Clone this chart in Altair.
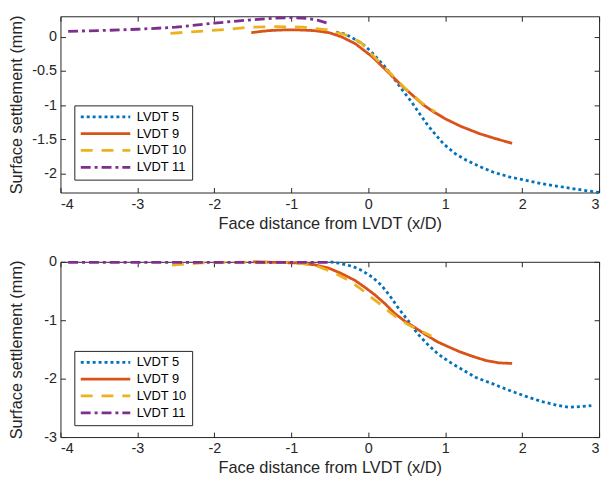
import altair as alt
import pandas as pd

series = ["LVDT 5", "LVDT 9", "LVDT 10", "LVDT 11"]
colors = ["#0072BD", "#D95319", "#EDB120", "#7E2F8E"]
dashes = [[3, 3], [1, 0], [12, 9], [10, 4, 3, 4]]

x_ticks = [-4, -3, -2, -1, 0, 1, 2, 3]
top_y_ticks = [0, -0.5, -1, -1.5, -2]
bot_y_ticks = [0, -1, -2, -3]

# ---- top panel ----
top_x_5 = [-0.42, -0.3, -0.2, -0.08, 0.03, 0.13, 0.24, 0.34, 0.45, 0.56, 0.67, 0.77, 0.88, 0.98,
           1.13, 1.28, 1.45, 1.62, 1.83, 2.04, 2.25, 2.47, 2.7, 2.94, 3.0]
top_y_5 = [0.07, 0.04, -0.02, -0.1, -0.21, -0.33, -0.47, -0.62, -0.79, -0.95, -1.13, -1.29, -1.44, -1.57,
           -1.71, -1.81, -1.9, -1.98, -2.05, -2.1, -2.15, -2.19, -2.23, -2.27, -2.28]
top_x_9 = [-1.52, -1.3, -1.1, -0.9, -0.7, -0.51, -0.35, -0.17, 0.05, 0.26, 0.43, 0.6, 0.72, 0.85,
           1.0, 1.2, 1.45, 1.65, 1.87]
top_y_9 = [0.06, 0.09, 0.1, 0.1, 0.09, 0.06, 0.0, -0.1, -0.29, -0.52, -0.71, -0.88, -1.0, -1.1,
           -1.2, -1.31, -1.42, -1.49, -1.56]
top_x_10 = [-2.57, -2.2, -1.83, -1.53, -1.19, -0.85, -0.53, -0.3, -0.1, 0.1, 0.3, 0.5, 0.7, 0.87]
top_y_10 = [0.05, 0.08, 0.11, 0.14, 0.15, 0.14, 0.1, 0.03, -0.08, -0.32, -0.55, -0.78, -0.97, -1.1]
top_x_11 = [-3.9, -3.5, -3.0, -2.5, -2.0, -1.5, -1.25, -1.0, -0.8, -0.65, -0.5]
top_y_11 = [0.08, 0.09, 0.11, 0.14, 0.2, 0.25, 0.27, 0.28, 0.27, 0.24, 0.19]

# ---- bottom panel ----
bot_x_5 = [-0.49, -0.35, -0.2, -0.08, 0.05, 0.17, 0.28, 0.39, 0.52, 0.64, 0.77, 0.9, 1.05, 1.19,
           1.4, 1.62, 1.83, 2.04, 2.25, 2.47, 2.6, 2.75, 2.9]
bot_y_5 = [0.0, -0.03, -0.08, -0.15, -0.26, -0.4, -0.58, -0.79, -1.01, -1.23, -1.41, -1.57, -1.71, -1.82,
           -1.98, -2.09, -2.2, -2.3, -2.39, -2.46, -2.49, -2.48, -2.46]
bot_x_9 = [-1.5, -1.2, -0.93, -0.7, -0.51, -0.35, -0.17, -0.04, 0.09, 0.22, 0.34, 0.47, 0.6, 0.75,
           0.9, 1.05, 1.19, 1.36, 1.53, 1.7, 1.87]
bot_y_9 = [0.0, -0.01, -0.02, -0.05, -0.11, -0.2, -0.32, -0.44, -0.57, -0.72, -0.88, -1.01, -1.12, -1.25,
           -1.37, -1.46, -1.54, -1.62, -1.69, -1.73, -1.74]
bot_x_10 = [-2.55, -2.17, -1.8, -1.44, -1.1, -0.8, -0.65, -0.51, -0.38, -0.25, -0.12, 0.0, 0.13, 0.26,
            0.38, 0.51, 0.66, 0.82]
bot_y_10 = [-0.055, -0.02, -0.01, 0.0, -0.01, -0.04, -0.08, -0.15, -0.23, -0.32, -0.44, -0.57, -0.7, -0.84,
            -0.96, -1.07, -1.17, -1.27]
bot_x_11 = [-3.9, -3.0, -2.0, -1.0, -0.5]
bot_y_11 = [-0.01, -0.01, -0.01, -0.01, -0.01]

FONT = "Liberation Sans"
INK = "#262626"
LABEL = "datum.value + ''"


def frame(xs, ys):
    rows = []
    for name, xv, yv in zip(series, xs, ys):
        for a, b in zip(xv, yv):
            rows.append({"series": name, "x": a, "y": b})
    return pd.DataFrame(rows)


def panel(df, ydom, yticks, height):
    xsc = alt.Scale(domain=[-4, 3], nice=False, zero=False)
    ysc = alt.Scale(domain=ydom, nice=False, zero=False)
    color = alt.Color("series:N", scale=alt.Scale(domain=series, range=colors),
                      sort=series, title=None)
    dash = alt.StrokeDash("series:N", scale=alt.Scale(domain=series, range=dashes),
                          sort=series, title=None)
    xax = alt.Axis(orient="bottom", values=x_ticks, title="Face distance from LVDT (x/D)", grid=False,
                   domain=False, tickSize=alt.ExprRef("-5"), tickColor=INK, labelPadding=10,
                   titlePadding=0, labelExpr=LABEL, minExtent=23, maxExtent=23,
                   labelFont=FONT, labelFontSize=14.5, labelColor=INK,
                   titleFont=FONT, titleFontSize=16.5, titleFontWeight="normal", titleColor=INK)
    yax = alt.Axis(orient="left", values=yticks, title="Surface settlement (mm)", grid=False,
                   domain=False, tickSize=alt.ExprRef("-5"), tickColor=INK, labelPadding=9,
                   titlePadding=5, labelExpr=LABEL, minExtent=31, maxExtent=31,
                   labelFont=FONT, labelFontSize=14.5, labelColor=INK,
                   titleFont=FONT, titleFontSize=16.5, titleFontWeight="normal", titleColor=INK)
    layers = []
    for i, name in enumerate(series):
        layers.append(
            alt.Chart(df).transform_filter(alt.datum.series == name).mark_line(
                strokeWidth=2.8, strokeCap="butt", clip=False
            ).encode(
                x=alt.X("x:Q", scale=xsc, axis=xax if i == 0 else None),
                y=alt.Y("y:Q", scale=ysc, axis=yax if i == 0 else None),
                color=color,
                strokeDash=dash,
                order=alt.Order("x:Q"),
            )
        )
    mirror = alt.Chart(df).mark_point(opacity=0, size=1).encode(
        x=alt.X("x:Q", scale=xsc, axis=alt.Axis(orient="top", values=x_ticks, labels=False, title=None,
                                                 grid=False, domain=False, tickColor=INK,
                                                 minExtent=0, maxExtent=0,
                                                 tickSize=alt.ExprRef("-5"))),
        y=alt.Y("y:Q", scale=ysc, axis=alt.Axis(orient="right", values=yticks, labels=False, title=None,
                                                 grid=False, domain=False, tickColor=INK,
                                                 minExtent=0, maxExtent=0,
                                                 tickSize=alt.ExprRef("-5"))),
    )
    return alt.layer(*layers, mirror).resolve_axis(x="independent", y="independent").properties(
        width=544, height=height
    )


top = panel(frame([top_x_5, top_x_9, top_x_10, top_x_11], [top_y_5, top_y_9, top_y_10, top_y_11]),
            [-2.28, 0.3], top_y_ticks, 178)
bottom = panel(frame([bot_x_5, bot_x_9, bot_x_10, bot_x_11], [bot_y_5, bot_y_9, bot_y_10, bot_y_11]),
               [-3, 0], bot_y_ticks, 177)

chart = alt.vconcat(top, bottom, spacing=21).resolve_scale(
    color="independent", strokeDash="independent"
).resolve_legend(color="independent", strokeDash="independent").properties(
    padding={"left": 0, "top": 1, "right": 0, "bottom": 0}, background="white"
).configure_view(stroke=INK, strokeWidth=1).configure_legend(
    orient="none", legendX=14, legendY=90, strokeColor=INK, strokeWidth=1, fillColor="white",
    padding=5, cornerRadius=0, symbolType="M-1,0H9", symbolSize=100, symbolStrokeWidth=2.8,
    labelFont=FONT, labelFontSize=13, labelColor="#000000", rowPadding=3, labelOffset=45,
)

chart.save("out.html", embed_options={"renderer": "svg", "actions": False})
